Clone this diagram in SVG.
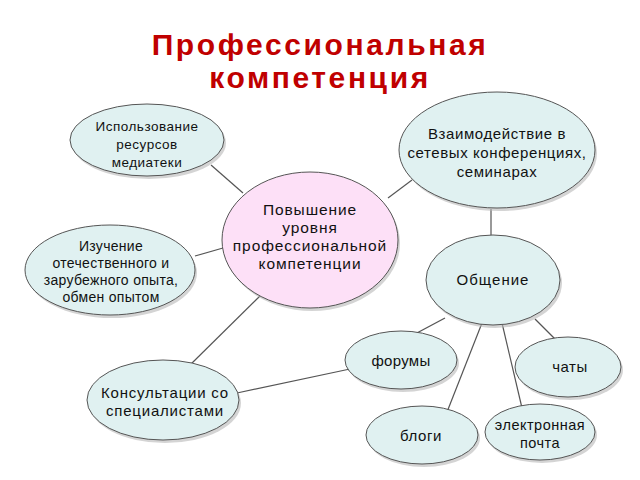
<svg xmlns="http://www.w3.org/2000/svg" width="640" height="480" viewBox="0 0 640 480">
<defs>
<style>
.n{fill:#e0f1f1;stroke:#555;stroke-width:1}
.c{fill:#fde0f7;stroke:#555;stroke-width:1}
.sh{fill:#b8b8b8;opacity:0.6}
.t{font-family:"Liberation Sans",Arial,sans-serif;font-size:14px;fill:#111;text-anchor:middle}
.ttl{font-family:"Liberation Sans",Arial,sans-serif;font-size:30px;font-weight:bold;fill:#c00000;text-anchor:middle;letter-spacing:2.6px}
.e{stroke:#555;stroke-width:1.2;fill:none}
</style>
</defs>
<rect width="640" height="480" fill="#fff"/>
<g id="title">
<text class="ttl" x="320" y="55">Профессиональная</text>
<text class="ttl" x="320" y="88">компетенция</text>
</g>
<g id="connectors">
<line class="e" x1="211" y1="165" x2="243" y2="193"/>
<line class="e" x1="388" y1="198" x2="412" y2="180"/>
<line class="e" x1="195" y1="256" x2="223" y2="248"/>
<line class="e" x1="188" y1="367" x2="262" y2="294"/>
<line class="e" x1="237" y1="393" x2="350" y2="369"/>
<line class="e" x1="491" y1="209" x2="491" y2="238"/>
<line class="e" x1="445" y1="318" x2="415" y2="334"/>
<line class="e" x1="482" y1="323" x2="447" y2="412"/>
<line class="e" x1="502" y1="323" x2="522" y2="408"/>
<line class="e" x1="535" y1="319" x2="555" y2="339"/>
</g>
<g id="n1">
<ellipse class="sh" cx="149" cy="143" rx="77" ry="36"/>
<ellipse class="n" cx="147" cy="140" rx="77" ry="36"/>
<text class="t" x="147" y="131" style="font-size:13.5px;letter-spacing:0.5px">Использование</text>
<text class="t" x="147" y="149" style="font-size:13.5px;letter-spacing:0.5px">ресурсов</text>
<text class="t" x="147" y="167" style="font-size:13.5px;letter-spacing:0.5px">медиатеки</text>
</g>
<g id="n2">
<ellipse class="sh" cx="499" cy="153" rx="98" ry="58"/>
<ellipse class="n" cx="497" cy="150" rx="98" ry="58"/>
<text class="t" x="497" y="139" style="font-size:15px;letter-spacing:0.6px">Взаимодействие в</text>
<text class="t" x="497" y="158" style="font-size:15px;letter-spacing:0.6px">сетевых конференциях,</text>
<text class="t" x="497" y="177" style="font-size:15px;letter-spacing:0.6px">семинарах</text>
</g>
<g id="center">
<ellipse class="sh" cx="312" cy="243" rx="88" ry="68"/>
<ellipse class="c" cx="310" cy="240" rx="88" ry="68"/>
<text class="t" x="310" y="215" style="font-size:15.5px;letter-spacing:0.9px">Повышение</text>
<text class="t" x="310" y="233" style="font-size:15.5px;letter-spacing:0.9px">уровня</text>
<text class="t" x="310" y="251" style="font-size:15.5px;letter-spacing:0.9px">профессиональной</text>
<text class="t" x="310" y="269" style="font-size:15.5px;letter-spacing:0.9px">компетенции</text>
</g>
<g id="n4">
<ellipse class="sh" cx="112" cy="273" rx="85" ry="45"/>
<ellipse class="n" cx="110" cy="270" rx="85" ry="45"/>
<text class="t" x="111" y="251" style="letter-spacing:0.3px">Изучение</text>
<text class="t" x="111" y="268" style="letter-spacing:0.3px">отечественного  и</text>
<text class="t" x="111" y="285" style="letter-spacing:0.3px">зарубежного опыта,</text>
<text class="t" x="111" y="302" style="letter-spacing:0.3px">обмен опытом</text>
</g>
<g id="n5">
<ellipse class="sh" cx="495" cy="283" rx="67" ry="45"/>
<ellipse class="n" cx="493" cy="280" rx="67" ry="45"/>
<text class="t" x="493" y="285" style="font-size:15px;letter-spacing:1px">Общение</text>
</g>
<g id="n6">
<ellipse class="sh" cx="165" cy="403" rx="76" ry="40"/>
<ellipse class="n" cx="163" cy="400" rx="76" ry="40"/>
<text class="t" x="165" y="398" style="font-size:15px;letter-spacing:0.8px">Консультации со</text>
<text class="t" x="165" y="416" style="font-size:15px;letter-spacing:0.8px">специалистами</text>
</g>
<g id="n7">
<ellipse class="sh" cx="403" cy="363" rx="56" ry="29"/>
<ellipse class="n" cx="401" cy="360" rx="56" ry="29"/>
<text class="t" x="401" y="366" style="font-size:15px;letter-spacing:0.3px">форумы</text>
</g>
<g id="n8">
<ellipse class="sh" cx="570" cy="370" rx="53" ry="30"/>
<ellipse class="n" cx="568" cy="367" rx="53" ry="30"/>
<text class="t" x="570" y="372" style="font-size:15px;letter-spacing:0.5px">чаты</text>
</g>
<g id="n9">
<ellipse class="sh" cx="424" cy="438" rx="56" ry="29"/>
<ellipse class="n" cx="422" cy="435" rx="56" ry="29"/>
<text class="t" x="421" y="441" style="font-size:15px;letter-spacing:0.6px">блоги</text>
</g>
<g id="n10">
<ellipse class="sh" cx="542" cy="435" rx="55" ry="28"/>
<ellipse class="n" cx="540" cy="432" rx="55" ry="28"/>
<text class="t" x="540" y="430" style="font-size:14.5px;letter-spacing:0.5px">электронная</text>
<text class="t" x="540" y="448" style="font-size:14.5px;letter-spacing:0.5px">почта</text>
</g>
</svg>
